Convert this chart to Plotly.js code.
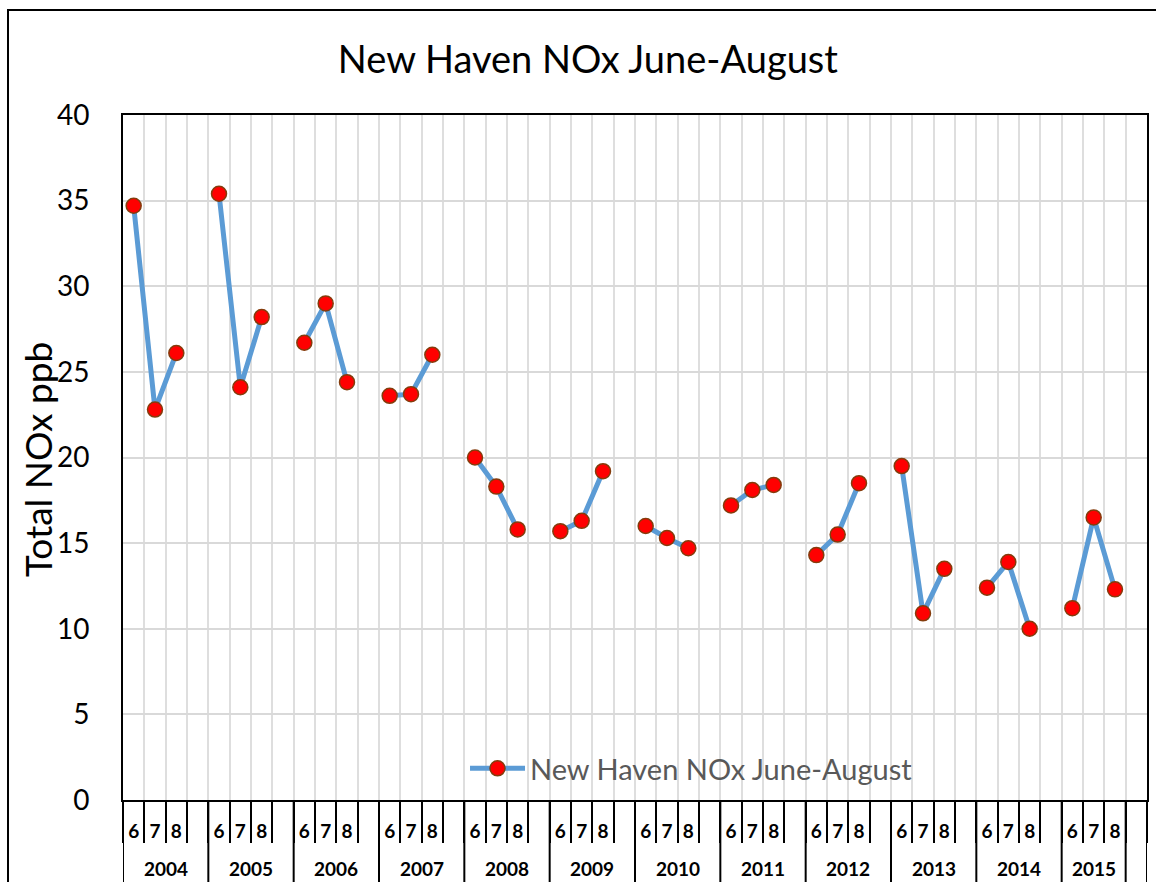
<!DOCTYPE html>
<html>
<head>
<meta charset="utf-8">
<script src="https://cdn.plot.ly/plotly-3.0.1.min.js"></script>
<style>html,body{margin:0;padding:0;background:#fff;}#chart{width:1156px;height:882px;}</style>
</head>
<body>
<div id="chart"></div>
<script>
// ---- data ----
const years = [2004, 2005, 2006, 2007, 2008, 2009, 2010, 2011, 2012, 2013, 2014, 2015];
const months = ['6', '7', '8'];
// Total NOx ppb, June, July, August of each year (in order)
const noxValues = [
  34.7, 22.8, 26.1,   // 2004
  35.4, 24.1, 28.2,   // 2005
  26.7, 29.0, 24.4,   // 2006
  23.6, 23.7, 26.0,   // 2007
  20.0, 18.3, 15.8,   // 2008
  15.7, 16.3, 19.2,   // 2009
  16.0, 15.3, 14.7,   // 2010
  17.2, 18.1, 18.4,   // 2011
  14.3, 15.5, 18.5,   // 2012
  19.5, 10.9, 13.5,   // 2013
  12.4, 13.9, 10.0,   // 2014
  11.2, 16.5, 12.3    // 2015
];
const seriesName = 'New Haven NOx June-August';
const chartTitle = 'New Haven NOx June-August';
const yTitle = 'Total NOx ppb';

// ---- category layout: 4 slots per year (6, 7, 8, blank) ----
const slotsPerYear = 4;
const nSlots = years.length * slotsPerYear;
const xs = [], ys = [];
const monthTickVals = [], monthTickText = [];
years.forEach((yr, i) => {
  months.forEach((m, j) => {
    const pos = i * slotsPerYear + j + 0.5;
    xs.push(pos); ys.push(noxValues[i * months.length + j]);
    monthTickVals.push(pos); monthTickText.push(m);
  });
  xs.push(i * slotsPerYear + months.length + 0.5); ys.push(null); // gap
});
const boundaries = [];
for (let k = 0; k <= nSlots; k++) boundaries.push(k);

// group dividers (long lines) and year labels
const shapes = [], annotations = [];
const divAt = new Set([0, nSlots]);
years.forEach((yr, i) => {
  const start = i * slotsPerYear;
  const end = (i === years.length - 1) ? start + months.length : start + slotsPerYear;
  divAt.add(start); divAt.add(end);
  annotations.push({
    x: (start + end) / 2, xref: 'x', y: -0.0993, yref: 'paper',
    text: '<b>' + yr + '</b>', showarrow: false, xanchor: 'center', yanchor: 'middle',
    font: {family: 'Lato, sans-serif', size: 19, color: '#000'}
  });
});
[...divAt].forEach(v => {
  shapes.push({type: 'line', xref: 'x', yref: 'paper', x0: v, x1: v, y0: 0, y1: -0.14,
    line: {color: '#000', width: 2}});
});
// outer chart border
shapes.push({type: 'rect', xref: 'paper', yref: 'paper', x0: -0.1123, x1: 1.02, y0: -0.2, y1: 1.1533,
  line: {color: '#000', width: 2}, fillcolor: 'rgba(0,0,0,0)'});

// y-axis title
annotations.push({
  text: yTitle, xref: 'paper', yref: 'paper', x: -0.0835, y: 0.497, textangle: -90,
  showarrow: false, xanchor: 'center', yanchor: 'middle',
  font: {family: 'Lato, sans-serif', size: 37, color: '#000'}
});

const trace = {
  x: xs, y: ys, type: 'scatter', mode: 'lines+markers', name: seriesName,
  connectgaps: false,
  line: {color: '#5b9bd5', width: 5},
  marker: {color: '#ff0000', size: 15, line: {color: '#843c0c', width: 1.5}}
};

const layout = {
  width: 1156, height: 882,
  margin: {l: 123, r: 9, t: 115, b: 82},
  paper_bgcolor: '#fff', plot_bgcolor: '#fff',
  font: {family: 'Lato, sans-serif', color: '#000'},
  title: {text: chartTitle, x: 0.454, xref: 'paper', xanchor: 'center', y: 0.932, yref: 'container', yanchor: 'middle',
    font: {family: 'Lato, sans-serif', size: 38, color: '#000'}},
  showlegend: true,
  legend: {x: 0.334, y: 0.046, xanchor: 'left', yanchor: 'middle', bgcolor: 'rgba(0,0,0,0)',
    itemwidth: 55, font: {family: 'Lato, sans-serif', size: 29, color: '#595959'}},
  xaxis: {
    range: [0, nSlots], showline: true, linecolor: '#000', linewidth: 2, mirror: true, zeroline: false,
    tickmode: 'array', tickvals: monthTickVals, ticktext: monthTickText,
    ticks: 'outside', ticklen: 13, tickcolor: 'rgba(0,0,0,0)', showgrid: false,
    tickfont: {family: 'Lato, sans-serif', size: 19, color: '#000', weight: 'bold'},
    minor: {tickmode: 'array', tickvals: boundaries, ticks: 'outside', ticklen: 41, tickwidth: 2, tickcolor: '#000',
      showgrid: true, gridcolor: '#dedede', gridwidth: 2},
    fixedrange: true
  },
  yaxis: {
    range: [0, 40], dtick: 5, showline: true, linecolor: '#000', linewidth: 2, mirror: true, zeroline: false,
    showgrid: true, gridcolor: '#d9d9d9', gridwidth: 2, ticks: '', ticklabelstandoff: 26,
    tickfont: {family: 'Lato, sans-serif', size: 28, color: '#000'},
    fixedrange: true
  },
  shapes: shapes, annotations: annotations
};

Plotly.newPlot('chart', [trace], layout, {displayModeBar: false, staticPlot: true});
</script>
</body>
</html>
